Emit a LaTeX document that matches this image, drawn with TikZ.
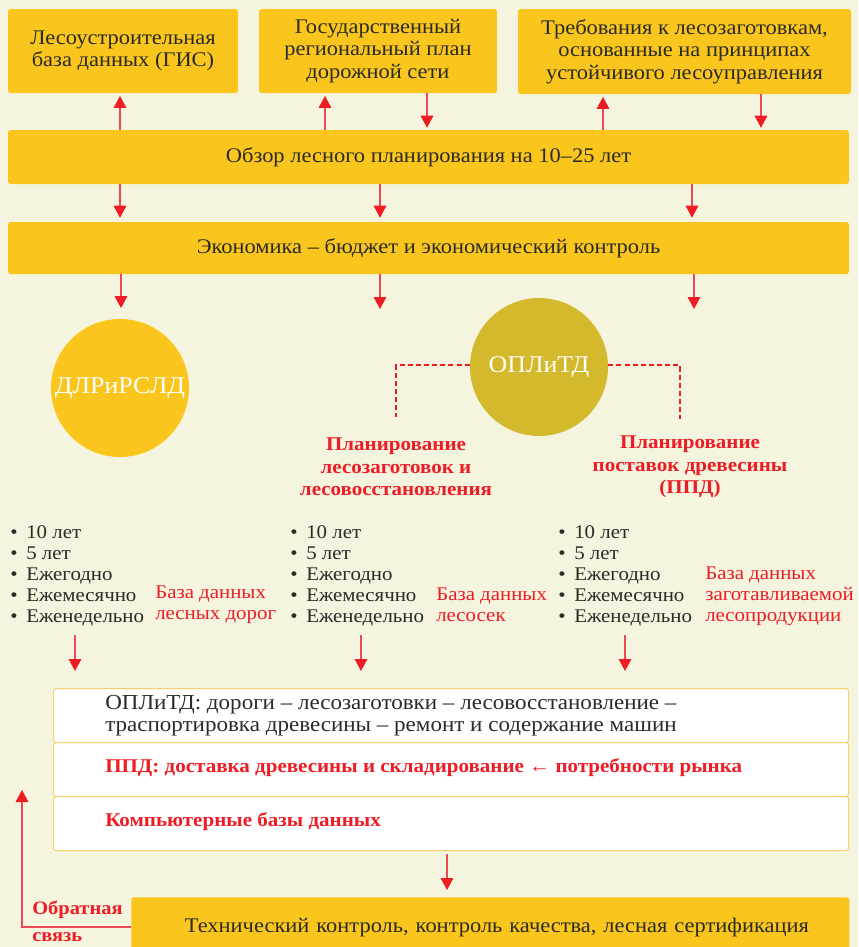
\documentclass[tikz,border=0pt]{standalone}
\usepackage{fontspec}
\setmainfont{Liberation Serif}[FakeStretch=1.08]
\usetikzlibrary{arrows.meta}
\definecolor{bg}{HTML}{F5F4DF}
\definecolor{myyellow}{HTML}{FAC61E}
\definecolor{olive}{HTML}{D5B92C}
\definecolor{myred}{HTML}{EE1C25}
\definecolor{lred}{HTML}{EE4A55}
\definecolor{txt}{HTML}{2A2A26}
\definecolor{wborder}{HTML}{F7D06A}
\newcommand{\bl}[1]{\makebox[12pt][l]{\textbullet}#1}
\begin{document}
\begin{tikzpicture}[x=0.75pt,y=-0.75pt,
  ybox/.style={fill=myyellow, rounded corners=2pt, inner sep=0pt, align=center, text=txt,
    font=\fontsize{15.6}{16.9}\selectfont},
  wbox/.style={fill=white, draw=wborder, line width=0.8pt, rounded corners=2pt, inner sep=0pt,
    minimum width=596.25pt, minimum height=40.5pt},
  circ/.style={circle, inner sep=0pt, minimum size=103.5pt, text=white,
    font=\fontsize{18}{20}\selectfont},
  arr/.style={draw=lred, line width=0.8pt, -{Triangle[width=9.5pt,length=9pt,color=myred]}},
  dashline/.style={draw=myred, line width=2.2pt, dash pattern=on 3.8pt off 2.3pt},
  redlbl/.style={text=myred, font=\bfseries\fontsize{14.6}{17}\selectfont, align=center, inner sep=0pt},
  dblbl/.style={text=myred, font=\fontsize{14.5}{15.9}\selectfont, align=left, inner sep=0pt, anchor=west},
  lst/.style={text=txt, font=\fontsize{14.5}{15.9}\selectfont, align=left, inner sep=0pt, anchor=west},
  txtl/.style={text=txt, font=\fontsize{16}{16.5}\selectfont, align=left, inner sep=0pt, anchor=west},
  redb/.style={text=myred, font=\bfseries\fontsize{14.6}{17}\selectfont, inner sep=0pt, anchor=west}
]
\fill[bg] (0,0) rectangle (858,947);
\useasboundingbox (0,0) rectangle (858,947);

% top boxes
\node[ybox, minimum width=172.5pt, minimum height=63pt] (gis) at (123,51) {Лесоустроительная\\база данных (ГИС)};
\node[ybox, minimum width=178.5pt, minimum height=63pt] (road) at (378,51) {Государственный\\региональный план\\дорожной сети};
\node[ybox, minimum width=249.75pt, minimum height=63.75pt] (req) at (684.5,51.5) {Требования к лесозаготовкам,\\основанные на принципах\\устойчивого лесоуправления};
\node[ybox, minimum width=630.75pt, minimum height=40.5pt] (plan) at (428.5,157) {Обзор лесного планирования на 10–25 лет};
\node[ybox, minimum width=630.75pt, minimum height=39pt] (econ) at (428.5,248) {Экономика – бюджет и экономический контроль};

% arrows top
\draw[arr, shorten >=2pt] (plan.north -| 120,0) -- (gis.south -| 120,0);
\draw[arr, shorten >=2pt] (plan.north -| 325,0) -- (road.south -| 325,0);
\draw[arr, shorten >=1.5pt] (road.south -| 427,0) -- (plan.north -| 427,0);
\draw[arr, shorten >=2pt] (plan.north -| 603,0) -- (req.south -| 603,0);
\draw[arr, shorten >=1.5pt] (req.south -| 761,0) -- (plan.north -| 761,0);
% plan -> econ
\draw[arr, shorten >=3pt] (plan.south -| 120,0) -- (econ.north -| 120,0);
\draw[arr, shorten >=3pt] (plan.south -| 380,0) -- (econ.north -| 380,0);
\draw[arr, shorten >=3pt] (plan.south -| 692,0) -- (econ.north -| 692,0);

% circles
\node[circ, fill=myyellow] (dlr) at (120,388) {ДЛРиРСЛД};
\node[circ, fill=olive] (opl) at (539,367) {ОПЛиТД};

% econ -> down
\coordinate (e2) at (380,309);
\coordinate (e3) at (694,309);
\draw[arr, shorten >=8pt] (econ.south -| 121,0) -- (dlr.north -| 121,0);
\draw[arr] (econ.south -| e2) -- (e2);
\draw[arr] (econ.south -| e3) -- (e3);

% dashed
\coordinate (dl) at (396,417);
\coordinate (dr) at (680,419);
\draw[dashline] (opl.west |- 0,365) -- (dl |- 0,365) -- (dl);
\draw[dashline] (opl.east |- 0,365) -- (dr |- 0,365) -- (dr);

\node[redlbl] (pl1) at (396,467) {Планирование\\лесозаготовок и\\лесовосстановления};
\node[redlbl] (pl2) at (690,467) {Планирование\\поставок древесины\\(ППД)};

% lists
\node[lst] (l1) at (10,576) {\bl{10 лет}\\\bl{5 лет}\\\bl{Ежегодно}\\\bl{Ежемесячно}\\\bl{Еженедельно}};
\node[lst] (l2) at (290,576) {\bl{10 лет}\\\bl{5 лет}\\\bl{Ежегодно}\\\bl{Ежемесячно}\\\bl{Еженедельно}};
\node[lst] (l3) at (558,576) {\bl{10 лет}\\\bl{5 лет}\\\bl{Ежегодно}\\\bl{Ежемесячно}\\\bl{Еженедельно}};
\node[dblbl] (db1) at (155,605) {База данных\\лесных дорог};
\node[dblbl] (db2) at (436,605) {База данных\\лесосек};
\node[dblbl] (db3) at (705,596) {База данных\\заготавливаемой\\лесопродукции};

% white boxes
\node[wbox, anchor=north west] (w1) at (53,688) {};
\node[wbox, anchor=north west] (w2) at (53,742) {};
\node[wbox, anchor=north west] (w3) at (53,796) {};
\node[txtl] (t1) at (105,716) {ОПЛиТД: дороги – лесозаготовки – лесовосстановление –\\траспортировка древесины – ремонт и содержание машин};
\node[redb] (t2) at (105,768) {ППД: доставка древесины и складирование ← потребности рынка};
\node[redb] (t3) at (105,822) {Компьютерные базы данных};

\coordinate (a1) at (75,671);
\coordinate (a2) at (361,671);
\coordinate (a3) at (625,671);
\draw[arr] (75,635) -- (a1);
\draw[arr] (361,635) -- (a2);
\draw[arr] (625,635) -- (a3);

% bottom
\node[ybox, anchor=north west, minimum width=538.5pt, minimum height=45pt, text width=538.5pt] (tech) at (131,897) {\hspace*{10pt}Технический контроль, контроль качества, лесная сертификация};
\draw[arr, shorten <=2.25pt, shorten >=5.25pt] (w3.south -| 447,0) -- (tech.north -| 447,0);
\coordinate (fb) at (22,790);
\draw[arr] (tech.west |- 0,927) -- (fb |- 0,927) -- (fb);
\node[redb, font=\bfseries\fontsize{14.2}{17}\selectfont] (fb1) at (32,910) {Обратная};
\node[redb, font=\bfseries\fontsize{14.2}{17}\selectfont] (fb2) at (32,937) {связь};
\end{tikzpicture}
\end{document}
